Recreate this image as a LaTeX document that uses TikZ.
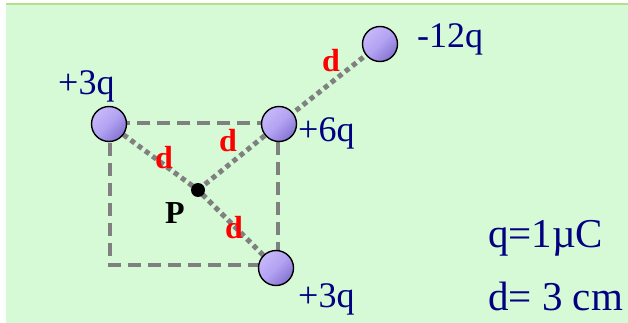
\documentclass[tikz,border=0pt]{standalone}
\usepackage{fontspec}
\setmainfont{Liberation Serif}
\definecolor{bggreen}{HTML}{D6FAD6}
\definecolor{topgreen}{HTML}{B6DE8C}
\definecolor{navytxt}{HTML}{000080}
\definecolor{linegray}{HTML}{808080}
\definecolor{balllight}{HTML}{C6B8FA}
\definecolor{ballmid}{HTML}{B2A2F2}
\definecolor{balldark}{HTML}{8574D0}
\begin{document}
\begin{tikzpicture}[x=1pt,y=-1pt,
  charge/.style={circle, draw=black, line width=1.4pt, minimum size=35pt, inner sep=0pt,
    top color=balllight, bottom color=balldark, middle color=ballmid, shading angle=45},
  lbl/.style={text=navytxt, font=\fontsize{36}{36}\selectfont, inner sep=0pt, anchor=base west},
  biglbl/.style={text=navytxt, font=\fontsize{41}{41}\selectfont, inner sep=0pt, anchor=base west},
  dlbl/.style={text=red, font=\fontsize{32}{32}\selectfont\bfseries, inner sep=0pt, anchor=base west},
  plbl/.style={text=black, font=\fontsize{32}{32}\selectfont\bfseries, inner sep=0pt, anchor=base west},
  sqline/.style={draw=linegray, line width=4pt, dash pattern=on 13pt off 7pt},
  dotline/.style={draw=linegray, line width=5pt, dash pattern=on 5pt off 4pt},
  pdot/.style={circle, fill=black, minimum size=14pt, inner sep=0pt}]
\useasboundingbox (0,0) rectangle (628,323);
\fill[white] (0,0) rectangle (628,323);
\fill[bggreen] (6,3) rectangle (628,323);
\fill[topgreen] (6,3) rectangle (628,5.5);
% coordinates
\coordinate (ctl) at (109,124);
\coordinate (ctr) at (279,124);
\coordinate (cbr) at (276,268);
\coordinate (cfar) at (380,44);
\coordinate (pc) at (198,190);
\coordinate (sqtl) at (110,123);
\coordinate (sqbr) at (278,265);
% dashed square
\draw[sqline] (sqtl) rectangle (sqbr);
% dotted connectors
\draw[dotline] (ctl) -- (pc) -- (cbr);
\draw[dotline] (pc) -- (ctr) -- (cfar);
% charges
\node[charge] (q1) at (ctl) {};
\node[charge] (q2) at (ctr) {};
\node[charge] (q3) at (cbr) {};
\node[charge] (q4) at (cfar) {};
\node[pdot] (P) at (pc) {};
% labels
\node[lbl] (l1) at (58,95) {+3q};
\node[lbl] (l2) at (298,142) {+6q};
\node[lbl] (l3) at (298,307) {+3q};
\node[lbl] (l4) at (417,48) {-12q};
\node[biglbl] (l5) at (488,247) {q=1µC};
\node[biglbl] (l6) at (488,310) {d= 3 cm};
\node[plbl] (lp) at (165,223) {P};
\node[dlbl] (d1) at (155,168) {d};
\node[dlbl] (d2) at (219,152) {d};
\node[dlbl] (d3) at (225,238) {d};
\node[dlbl] (d4) at (322,72) {d};
\end{tikzpicture}
\end{document}
